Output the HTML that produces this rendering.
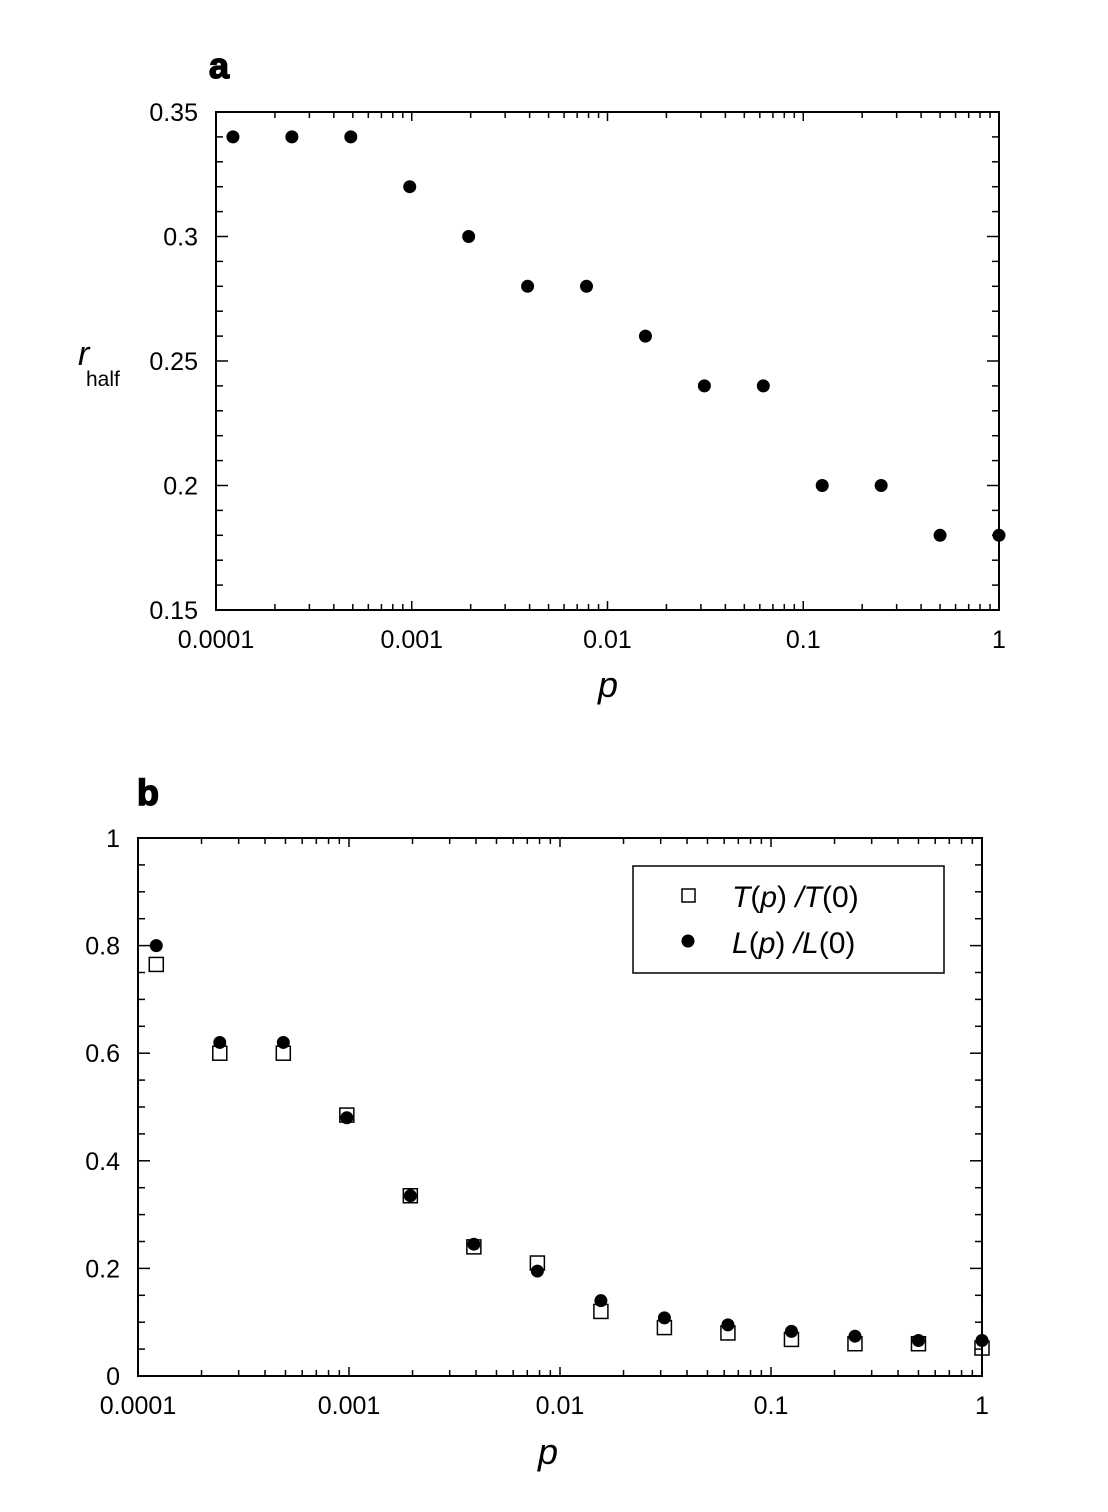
<!DOCTYPE html>
<html><head><meta charset="utf-8">
<style>
html,body{margin:0;padding:0;background:#fff;}
svg{display:block;font-family:"Liberation Sans",Arial,sans-serif;}
</style></head>
<body>
<svg id="chart" width="1108" height="1512" viewBox="0 0 1108 1512" xmlns="http://www.w3.org/2000/svg">
</svg>
<script>
// shared x categories: p = 2^-13 .. 2^0
const pValues = [0.0001220703125,0.000244140625,0.00048828125,0.0009765625,0.001953125,0.00390625,0.0078125,0.015625,0.03125,0.0625,0.125,0.25,0.5,1];
const rHalf = [0.34,0.34,0.34,0.32,0.30,0.28,0.28,0.26,0.24,0.24,0.20,0.20,0.18,0.18];
const tRatio = [0.765,0.60,0.60,0.485,0.335,0.24,0.21,0.12,0.09,0.08,0.068,0.06,0.06,0.052];
const lRatio = [0.80,0.62,0.62,0.48,0.335,0.245,0.195,0.14,0.108,0.095,0.083,0.074,0.066,0.066];
const xTickLabels = ["0.0001","0.001","0.01","0.1","1"];
const xTickValues = [0.0001,0.001,0.01,0.1,1];
const yTicksA = [0.15,0.2,0.25,0.3,0.35];
const yTickLabelsA = ["0.15","0.2","0.25","0.3","0.35"];
const yTicksB = [0,0.2,0.4,0.6,0.8,1];
const yTickLabelsB = ["0","0.2","0.4","0.6","0.8","1"];

const svg = document.getElementById('chart');
const NS = 'http://www.w3.org/2000/svg';
function mk(tag, attrs, parent){
  const e = document.createElementNS(NS, tag);
  for (const k in attrs) e.setAttribute(k, attrs[k]);
  (parent||svg).appendChild(e);
  return e;
}

function panel(cfg){
  const g = mk('g', {});
  
  
  const {x0,x1,y0,y1,ymin,ymax} = cfg;
  const xs = v => x0 + (Math.log10(v) + 4) / 4 * (x1 - x0);
  const ys = v => y1 - (v - ymin) / (ymax - ymin) * (y1 - y0);
  const frame = mk('rect', {x:x0, y:y0, width:x1-x0, height:y1-y0, fill:'none', stroke:'#000', 'stroke-width':2}, g);
  
  
  for (let d = -4; d <= 0; d++) {
    for (let m = 1; m <= 9; m++) {
      if (d === 0 && m > 1) break;
      const v = m * Math.pow(10, d);
      const x = xs(v);
      const len = m === 1 ? 9 : 6;
      mk('line', {x1:x, x2:x, y1:y1, y2:y1-len, stroke:'#000', 'stroke-width':1.5}, g);
      mk('line', {x1:x, x2:x, y1:y0, y2:y0+len, stroke:'#000', 'stroke-width':1.5}, g);
    }
  }
  xTickValues.forEach((v, i) => {
    const t = mk('text', {x:xs(v), y:y1+38, 'font-size':25, 'text-anchor':'middle'}, g);
    t.textContent = xTickLabels[i];
    
    
  });
  const nMinor = Math.round((ymax - ymin) / cfg.minor);
  for (let i = 0; i <= nMinor; i++) {
    const v = ymin + i * cfg.minor;
    const y = ys(v);
    const major = i % cfg.perMajor === 0;
    const len = major ? 12 : 7;
    mk('line', {x1:x0, x2:x0+len, y1:y, y2:y, stroke:'#000', 'stroke-width':1.5}, g);
    mk('line', {x1:x1, x2:x1-len, y1:y, y2:y, stroke:'#000', 'stroke-width':1.5}, g);
  }
  cfg.yTicks.forEach((v, i) => {
    const t = mk('text', {x:x0-18, y:ys(v)+9, 'font-size':25, 'text-anchor':'end'}, g);
    t.textContent = cfg.yLabels[i];
    
    
  });
  return {g, xs, ys};
}

const A = panel({name:'panel-a', x0:216, x1:999, y0:112, y1:610, ymin:0.15, ymax:0.35, minor:0.01, perMajor:5, yTicks:yTicksA, yLabels:yTickLabelsA});
pValues.forEach((p, i) => {
  const c = mk('circle', {cx:A.xs(p), cy:A.ys(rHalf[i]), r:6.5, fill:'#000'}, A.g);
  
  
});

const B = panel({name:'panel-b', x0:138, x1:982, y0:838, y1:1376, ymin:0, ymax:1, minor:0.05, perMajor:4, yTicks:yTicksB, yLabels:yTickLabelsB});
pValues.forEach((p, i) => {
  const c = mk('circle', {cx:B.xs(p), cy:B.ys(lRatio[i]), r:6.5, fill:'#000'}, B.g);
  
  
});
pValues.forEach((p, i) => {
  const r = mk('rect', {x:B.xs(p)-7, y:B.ys(tRatio[i])-7, width:14, height:14, fill:'none', stroke:'#000', 'stroke-width':1.5}, B.g);
  
  
});
</script>
<svg style="position:absolute;left:0;top:0" width="1108" height="1512">
  <text x="209" y="78" font-size="36" font-weight="bold" stroke="#000" stroke-width="1.5">a</text>
  <text x="137" y="805" font-size="36" font-weight="bold" stroke="#000" stroke-width="1.5">b</text>
  <g>
    <text x="78" y="365" font-size="34" font-style="italic">r</text>
    <text x="86" y="386" font-size="21">half</text>
  </g>
  <text x="608" y="697" font-size="36" font-style="italic" text-anchor="middle">p</text>
  <text x="548" y="1464" font-size="36" font-style="italic" text-anchor="middle">p</text>
  <g>
    <rect x="633" y="866" width="311" height="107" fill="#fff" stroke="#000" stroke-width="1.5"/>
    <rect x="682" y="889" width="13" height="13" fill="none" stroke="#000" stroke-width="1.5"/>
    <text x="732" y="907" font-size="30"><tspan font-style="italic">T</tspan>(<tspan font-style="italic">p</tspan>) <tspan font-style="italic">/T</tspan>(0)</text>
    <circle cx="688" cy="941" r="6.5" fill="#000"/>
    <text x="732" y="953" font-size="30"><tspan font-style="italic">L</tspan>(<tspan font-style="italic">p</tspan>) <tspan font-style="italic">/L</tspan>(0)</text>
  </g>
</svg>
</body></html>
